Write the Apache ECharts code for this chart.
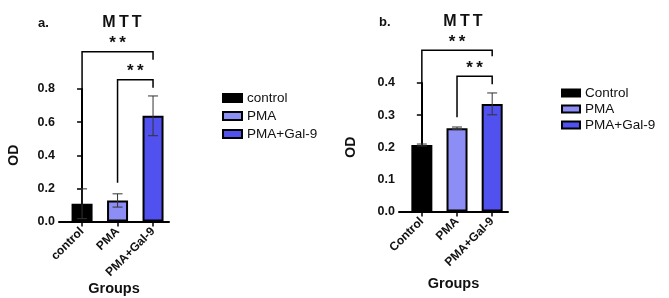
<!DOCTYPE html>
<html>
<head>
<meta charset="utf-8">
<script src="https://cdn.jsdelivr.net/npm/echarts@6/dist/echarts.min.js"></script>
<style>
html, body { margin: 0; padding: 0; background: #fff; }
#chart { width: 669px; height: 298px; }
</style>
</head>
<body>
<div id="chart"></div>
<script>
// panel a
const categoriesA = ['control', 'PMA', 'PMA+Gal-9']
const meansA = [0.107, 0.127, 0.638]
const errorsA = [0.09, 0.04, 0.12]
// from, to, level, left foot, right foot
const bracketsA = [[0, 2, 1.025, 0.25, 0.977], [1, 2, 0.856, 0.234, 0.808]]

// panel b
const categoriesB = ['Control', 'PMA', 'PMA+Gal-9']
const meansB = [0.207, 0.259, 0.335]
const errorsB = [0.003, 0.004, 0.034]
const bracketsB = [[0, 2, 0.502, 0.24, 0.483], [1, 2, 0.421, 0.293, 0.396]]

const sigLabels = ['**', '**']
const barColors = ['#000000', '#8d8df6', '#5151ef']
const font = 'Liberation Sans, Arial, sans-serif'

const chart = echarts.init(document.getElementById('chart'))

function xAxis(idx, cats, gap) {
 return {
  gridIndex: idx,
  type: 'value',
  min: -0.65,
  max: 2.45,
  name: 'Groups',
  nameLocation: 'middle',
  nameGap: gap,
  nameTextStyle: { fontFamily: font, fontWeight: 'bold', fontSize: 14.5, color: '#111' },
  axisLine: { show: true, onZero: false, lineStyle: { color: '#000', width: 2 } },
  axisTick: { show: true, customValues: [0, 1, 2], length: 5, lineStyle: { color: '#000', width: 1.5 } },
  axisLabel: {
   customValues: [0, 1, 2],
   rotate: 45,
   margin: 8,
   fontFamily: font, fontWeight: 'bold', fontSize: 12, color: '#111',
   formatter: v => cats[Math.round(v)]
  },
  splitLine: { show: false }
 }
}

function yAxis(idx, max, interval, gap) {
 return {
  gridIndex: idx,
  type: 'value',
  min: 0,
  max: max,
  interval: interval,
  name: 'OD',
  nameLocation: 'middle',
  nameGap: gap,
  nameRotate: 90,
  nameTextStyle: { fontFamily: font, fontWeight: 'bold', fontSize: 14, color: '#111' },
  axisLine: { show: true, lineStyle: { color: '#000', width: 2 } },
  axisTick: { show: true, length: 5, lineStyle: { color: '#000', width: 1.5 } },
  axisLabel: {
   margin: 4,
   fontFamily: font, fontWeight: 'bold', fontSize: 12.5, color: '#111',
   formatter: v => v.toFixed(1)
  },
  splitLine: { show: false }
 }
}

function barSeries(idx, cats, means) {
 return cats.map((c, i) => ({
  name: c,
  type: 'bar',
  xAxisIndex: idx,
  yAxisIndex: idx,
  barWidth: 21,
  barGap: '-100%',
  data: [[i, means[i]]],
  itemStyle: { color: barColors[i], borderColor: '#000', borderWidth: 2 },
  emphasis: { disabled: true }
 }))
}

function errorSeries(idx, means, errors) {
 return {
  type: 'custom',
  xAxisIndex: idx,
  yAxisIndex: idx,
  z: 5,
  silent: true,
  data: means.map((m, i) => [i, m, errors[i]]),
  encode: { x: 0, y: 1 },
  renderItem: function (params, api) {
   const x = api.value(0), m = api.value(1), e = api.value(2)
   const top = api.coord([x, m + e])
   const bot = api.coord([x, m - e])
   const style = { stroke: '#333', lineWidth: 1 }
   return {
    type: 'group',
    children: [
     { type: 'line', shape: { x1: top[0], y1: top[1], x2: bot[0], y2: bot[1] }, style },
     { type: 'line', shape: { x1: top[0] - 5, y1: top[1], x2: top[0] + 5, y2: top[1] }, style },
     { type: 'line', shape: { x1: bot[0] - 5, y1: bot[1], x2: bot[0] + 5, y2: bot[1] }, style }
    ]
   }
  }
 }
}

function bracketSeries(idx, brackets) {
 return {
  type: 'custom',
  xAxisIndex: idx,
  yAxisIndex: idx,
  clip: false,
  silent: true,
  z: 6,
  data: brackets,
  encode: { x: [0, 1], y: [2] },
  renderItem: function (params, api) {
   const a = api.value(0), b = api.value(1), lvl = api.value(2)
   const p1 = api.coord([a, api.value(3)])
   const p2 = api.coord([a, lvl])
   const p3 = api.coord([b, lvl])
   const p4 = api.coord([b, api.value(4)])
   return {
    type: 'group',
    children: [
     { type: 'polyline', shape: { points: [p1, p2, p3, p4] }, style: { stroke: '#000', lineWidth: 1.5, fill: null } },
     {
      type: 'text',
      x: (p2[0] + p3[0]) / 2,
      y: p2[1] - 8,
      style: {
       text: sigLabels[params.dataIndex].split('').join('\u2009'),
       fontFamily: font, fontWeight: 'bold', fontSize: 17,
       fill: '#111', align: 'center', verticalAlign: 'middle'
      }
     }
    ]
   }
  }
 }
}

const titleStyle = { fontFamily: font, fontWeight: 'bold', fontSize: 16, color: '#111' }
const tagStyle = { fontFamily: font, fontWeight: 'bold', fontSize: 13, color: '#111' }

const option = {
 animation: false,
 title: [
  { text: 'a.', left: 33, top: 12, textStyle: tagStyle },
  { text: 'M\u2009T\u2009T', left: 117, top: 10, textAlign: 'center', textStyle: titleStyle },
  { text: 'b.', left: 374, top: 11, textStyle: tagStyle },
  { text: 'M\u2009T\u2009T', left: 458, top: 9, textAlign: 'center', textStyle: titleStyle }
 ],
 legend: [
  {
   data: categoriesA,
   orient: 'vertical',
   left: 217, top: 86,
   icon: 'rect',
   itemWidth: 19, itemHeight: 8, itemGap: 4,
   selectedMode: false,
   textStyle: { fontFamily: font, fontSize: 13.5, color: '#111' }
  },
  {
   data: categoriesB,
   orient: 'vertical',
   left: 556, top: 81,
   icon: 'rect',
   itemWidth: 18, itemHeight: 7, itemGap: 2,
   selectedMode: false,
   textStyle: { fontFamily: font, fontSize: 13.5, color: '#111' }
  }
 ],
 grid: [
  { left: 59, top: 89, width: 110, height: 132.5 },
  { left: 399, top: 83, width: 109, height: 128.5 }
 ],
 xAxis: [xAxis(0, categoriesA, 55), xAxis(1, categoriesB, 65)],
 yAxis: [yAxis(0, 0.8, 0.2, 38), yAxis(1, 0.4, 0.1, 41)],
 series: [
  ...barSeries(0, categoriesA, meansA),
  errorSeries(0, meansA, errorsA),
  bracketSeries(0, bracketsA),
  ...barSeries(1, categoriesB, meansB),
  errorSeries(1, meansB, errorsB),
  bracketSeries(1, bracketsB)
 ]
}

chart.setOption(option)
</script>
</body>
</html>
